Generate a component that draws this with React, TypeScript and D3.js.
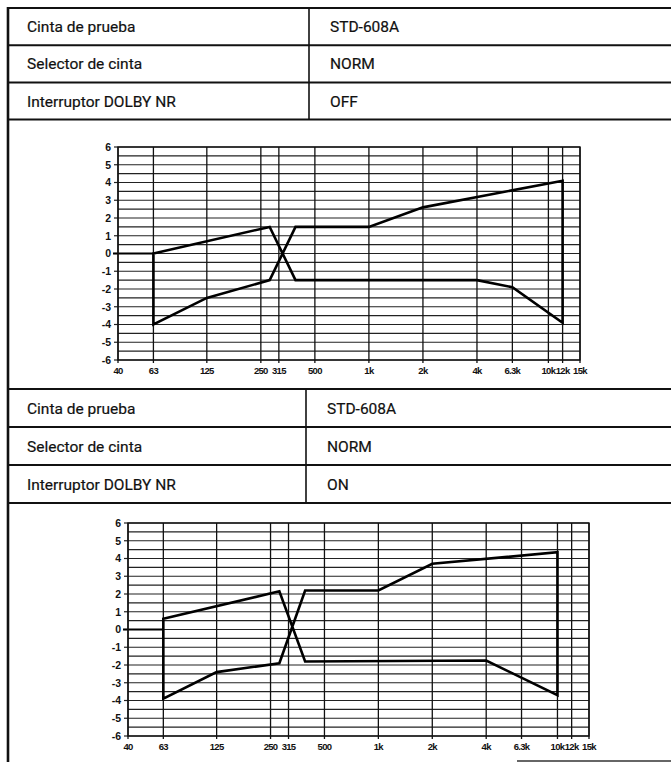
import React from "react";
import * as d3 from "d3";

// ---- data ----
const freqTicks = [40, 63, 125, 250, 315, 500, 1000, 2000, 4000, 6300, 10000, 12000, 15000];
const freqLabels = ["40", "63", "125", "250", "315", "500", "1k", "2k", "4k", "6.3k", "10k", "12k", "15k"];
const dbTicks = [6, 5, 4, 3, 2, 1, 0, -1, -2, -3, -4, -5, -6];
const dbLabels = ["6", "5", "4", "3", "2", "1", "0", "-1", "-2", "-3", "-4", "-5", "-6"];
const dbGrid = d3.range(-6, 6.01, 0.5);

const rowLabels = ["Cinta de prueba", "Selector de cinta", "Interruptor DOLBY NR"];
const rowValuesOff = ["STD-608A", "NORM", "OFF"];
const rowValuesOn = ["STD-608A", "NORM", "ON"];

// Dolby NR OFF
const offFreqA = [63, 280, 390, 4000, 6300, 12000];
const offDbA = [0, 1.5, -1.5, -1.5, -1.9, -3.9];
const offFreqB = [63, 125, 280, 390, 1000, 2000, 12000];
const offDbB = [-4, -2.5, -1.5, 1.5, 1.5, 2.6, 4.1];

// Dolby NR ON
const onFreqA = [63, 280, 390, 4000, 10000];
const onDbA = [0.6, 2.15, -1.8, -1.75, -3.7];
const onFreqB = [63, 125, 280, 390, 1000, 2000, 10000];
const onDbB = [-3.9, -2.4, -1.9, 2.2, 2.2, 3.7, 4.35];

const W = 671;
const H = 762;
const FONT = "Roboto, 'Liberation Sans', Arial, Helvetica, sans-serif";
const TICKFONT = "'Liberation Sans', Arial, Helvetica, sans-serif";

type PanelProps = {
  tableTop: number;
  rowH: number;
  divX: number;
  values: string[];
  cx0: number;
  cx1: number;
  cy0: number;
  cy1: number;
  freqA: number[];
  dbA: number[];
  freqB: number[];
  dbB: number[];
};

function Panel(p: PanelProps) {
  const x = d3.scaleLog().domain([40, 15000]).range([p.cx0, p.cx1]);
  const y = d3.scaleLinear().domain([-6, 6]).range([p.cy1, p.cy0]);
  const ptsA: [number, number][] = p.freqA.map((f, i) => [x(f), y(p.dbA[i])]);
  const ptsB: [number, number][] = p.freqB.map((f, i) => [x(f), y(p.dbB[i])]);
  const loop = ptsA.concat(ptsB.slice().reverse());
  const line = d3.line();
  const d = line(loop) + "Z";
  const rows = [0, 1, 2, 3].map((i) => p.tableTop + i * p.rowH);
  return (
    <g>
      {/* table */}
      {rows.map((ry, i) => (
        <line key={"r" + i} x1={8} x2={W} y1={ry} y2={ry} stroke="#111" strokeWidth={2} />
      ))}
      <line x1={p.divX} x2={p.divX} y1={rows[0]} y2={rows[3]} stroke="#111" strokeWidth={1.6} />
      {rowLabels.map((t, i) => (
        <text key={"l" + i} x={27} y={rows[i] + p.rowH / 2 + 5.5} fontFamily={FONT} fontSize={15.5} fill="#111" stroke="#111" strokeWidth={0.2}>
          {t}
        </text>
      ))}
      {p.values.map((t, i) => (
        <text key={"v" + i} x={p.divX + 21} y={rows[i] + p.rowH / 2 + 5.5} fontFamily={FONT} fontSize={15.5} fill="#111" stroke="#111" strokeWidth={0.2}>
          {t}
        </text>
      ))}
      {/* grid */}
      {dbGrid.map((v, i) => (
        <line key={"h" + i} x1={p.cx0} x2={p.cx1} y1={y(v)} y2={y(v)} stroke="#222" strokeWidth={1.1} />
      ))}
      {dbTicks.map((v, i) => (
        <line key={"ht" + i} x1={p.cx0 - 4} x2={p.cx0} y1={y(v)} y2={y(v)} stroke="#222" strokeWidth={1.2} />
      ))}
      <line x1={p.cx0 - 5} x2={x(63)} y1={y(0)} y2={y(0)} stroke="#000" strokeWidth={2.2} />
      {freqTicks.map((f, i) => (
        <line key={"v" + i} x1={x(f)} x2={x(f)} y1={p.cy0} y2={p.cy1 + 3} stroke="#111" strokeWidth={1.3} />
      ))}
      <rect x={p.cx0} y={p.cy0} width={p.cx1 - p.cx0} height={p.cy1 - p.cy0} fill="none" stroke="#111" strokeWidth={1.4} />
      {/* labels */}
      {dbTicks.map((v, i) => (
        <text key={"yl" + i} x={p.cx0 - 7} y={y(v) + 3.8} textAnchor="end" fontFamily={TICKFONT} fontSize={10.5} fontWeight="bold" fill="#111">
          {dbLabels[i]}
        </text>
      ))}
      {freqTicks.map((f, i) => (
        <text key={"xl" + i} x={x(f)} y={p.cy1 + 13.5} textAnchor="middle" fontFamily={TICKFONT} fontSize={9.5} fontWeight="bold" letterSpacing={-0.7} fill="#111">
          {freqLabels[i]}
        </text>
      ))}
      {/* curve */}
      <path d={d} fill="none" stroke="#000" strokeWidth={2.6} strokeLinejoin="miter" />
    </g>
  );
}

export default function App() {
  return (
    <svg width={W} height={H} style={{ position: "absolute", left: 0, top: 0, background: "#fff" }}>
      <rect x={0} y={0} width={W} height={H} fill="#fff" />
      <line x1={8} x2={8} y1={7} y2={H} stroke="#111" strokeWidth={2.6} />
      <Panel
        tableTop={8}
        rowH={37.2}
        divX={309}
        values={rowValuesOff}
        cx0={118}
        cx1={580}
        cy0={147}
        cy1={360}
        freqA={offFreqA}
        dbA={offDbA}
        freqB={offFreqB}
        dbB={offDbB}
      />
      <Panel
        tableTop={389}
        rowH={38}
        divX={306}
        values={rowValuesOn}
        cx0={128}
        cx1={589}
        cy0={523}
        cy1={736}
        freqA={onFreqA}
        dbA={onDbA}
        freqB={onFreqB}
        dbB={onDbB}
      />
      <line x1={517} x2={W} y1={761} y2={761} stroke="#333" strokeWidth={1.5} />
    </svg>
  );
}
